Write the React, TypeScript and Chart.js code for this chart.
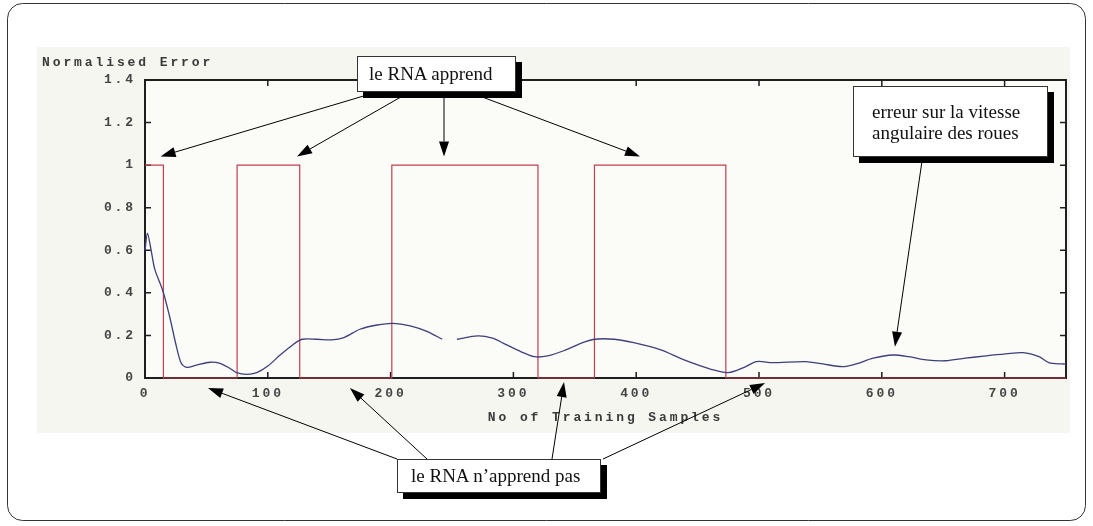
import React, { useEffect, useRef } from "react";
import { Chart, registerables } from "chart.js";

Chart.register(...registerables);

// ---- data ----
const errX = [0, 2, 5, 8, 14.5, 20, 25.5, 29.5, 34, 42, 53, 61, 69, 74.5, 83, 91, 100, 110, 121, 128, 140, 152, 162, 175, 189, 202, 216, 230, 242, 248, 254, 271, 283, 292, 306, 317, 328, 341, 355, 366, 382, 398, 420, 439, 461, 475, 488, 498, 511, 538, 552, 568, 579, 593, 609, 622, 636, 652, 668, 685, 701, 715, 728, 736, 747, 750];
const errY: (number | null)[] = [0.6, 0.68, 0.6, 0.51, 0.41, 0.29, 0.15, 0.07, 0.05, 0.061, 0.074, 0.069, 0.046, 0.025, 0.017, 0.025, 0.056, 0.108, 0.159, 0.182, 0.182, 0.179, 0.19, 0.229, 0.249, 0.257, 0.245, 0.218, 0.182, null, 0.182, 0.198, 0.187, 0.163, 0.124, 0.1, 0.104, 0.128, 0.163, 0.182, 0.182, 0.166, 0.132, 0.085, 0.041, 0.025, 0.05, 0.077, 0.072, 0.077, 0.066, 0.053, 0.066, 0.093, 0.108, 0.1, 0.085, 0.081, 0.093, 0.104, 0.113, 0.119, 0.1, 0.072, 0.066, 0.066];

const sigX = [0, 15, 15, 75, 75, 126, 126, 201, 201, 320, 320, 366, 366, 473, 473, 750];
const sigY = [1, 1, 0, 0, 1, 1, 0, 0, 1, 1, 0, 0, 1, 1, 0, 0];

const xTicks = [0, 100, 200, 300, 400, 500, 600, 700];
const yTicks = [0, 0.2, 0.4, 0.6, 0.8, 1, 1.2, 1.4];

const yAxisTitle = "Normalised Error";
const xAxisTitle = "No of Training Samples";

// annotations
const learnLabel = "le RNA apprend";
const idleLabel = "le RNA n\u2019apprend pas";
const errLabel = ["erreur sur la vitesse", "angulaire des roues"];

const learnTipX = [12.7, 123.8, 243.5, 403.1];
const learnTipY = [1.041, 1.041, 1.041, 1.041];
const learnStart = [[377, 92], [409.6, 92], [444, 92], [469, 92]];

const idleTipX = [51.3, 166.9, 341.2, 504.9];
const idleTipY = [-0.047, -0.047, -0.019, -0.024];
const idleStart = [[397, 459], [427, 459], [552, 459], [603, 459]];

const errTipX = [610.7];
const errTipY = [0.147];
const errStart = [[922.6, 157]];

const MONO = "'Liberation Mono', 'DejaVu Sans Mono', monospace";
const SERIF = "'Liberation Serif', 'DejaVu Serif', serif";

function drawArrow(ctx: CanvasRenderingContext2D, x1: number, y1: number, x2: number, y2: number) {
  const ang = Math.atan2(y2 - y1, x2 - x1);
  const L = 15, W = 5;
  const bx = x2 - L * Math.cos(ang);
  const by = y2 - L * Math.sin(ang);
  ctx.beginPath();
  ctx.moveTo(x1, y1);
  ctx.lineTo(bx, by);
  ctx.stroke();
  ctx.beginPath();
  ctx.moveTo(x2, y2);
  ctx.lineTo(bx + W * Math.sin(ang), by - W * Math.cos(ang));
  ctx.lineTo(bx - W * Math.sin(ang), by + W * Math.cos(ang));
  ctx.closePath();
  ctx.fill();
}

const decorPlugin = {
  id: "decor",
  beforeDraw(chart: any) {
    const { ctx, width, height } = chart;
    ctx.save();
    ctx.fillStyle = "#ffffff";
    ctx.fillRect(0, 0, width, height);
    ctx.fillStyle = "#f6f6f1";
    ctx.fillRect(37, 47, 1033, 386);
    ctx.strokeStyle = "#333";
    ctx.lineWidth = 1;
    ctx.beginPath();
    (ctx as any).roundRect(7.5, 3.5, 1078, 517, 15);
    ctx.stroke();
    ctx.restore();
    (ctx as any).letterSpacing = "2.9px";
  },
  beforeDatasetsDraw(chart: any) {
    const { ctx, chartArea, scales } = chart;
    const { left, right, top, bottom } = chartArea;
    ctx.save();
    ctx.fillStyle = "#fbfbf8";
    ctx.fillRect(left, top, right - left, bottom - top);
    ctx.strokeStyle = "#1e1e1e";
    ctx.lineWidth = 2;
    ctx.strokeRect(left, top, right - left, bottom - top);
    ctx.lineWidth = 1.5;
    const t = 6;
    xTicks.forEach((v) => {
      const px = scales.x.getPixelForValue(v);
      ctx.beginPath();
      ctx.moveTo(px, bottom);
      ctx.lineTo(px, bottom - t);
      ctx.moveTo(px, top);
      ctx.lineTo(px, top + t);
      ctx.stroke();
    });
    yTicks.forEach((v) => {
      const py = scales.y.getPixelForValue(v);
      ctx.beginPath();
      ctx.moveTo(left, py);
      ctx.lineTo(left + t, py);
      ctx.moveTo(right, py);
      ctx.lineTo(right - t, py);
      ctx.stroke();
    });
    ctx.restore();
  },
  afterDraw(chart: any) {
    const { ctx, scales } = chart;
    (ctx as any).letterSpacing = "0px";
    ctx.save();
    ctx.strokeStyle = "#000";
    ctx.fillStyle = "#000";
    ctx.lineWidth = 1;
    const groups: [number[], number[], number[][]][] = [
      [learnTipX, learnTipY, learnStart],
      [idleTipX, idleTipY, idleStart],
      [errTipX, errTipY, errStart],
    ];
    groups.forEach(([tx, ty, st]) => {
      tx.forEach((xv, i) => {
        const px = scales.x.getPixelForValue(xv);
        const py = scales.y.getPixelForValue(ty[i]);
        drawArrow(ctx, st[i][0], st[i][1], px, py);
      });
    });
    ctx.restore();
  },
};

const boxStyle: React.CSSProperties = {
  position: "absolute",
  background: "#fff",
  border: "1px solid #333",
  boxShadow: "6px 6px 0 #000",
  fontFamily: SERIF,
  fontSize: 19,
  color: "#111",
  whiteSpace: "nowrap",
  boxSizing: "border-box",
};

export default function App() {
  const ref = useRef<HTMLCanvasElement | null>(null);

  useEffect(() => {
    document.body.style.margin = "0";
    const canvas = ref.current;
    if (!canvas) return;
    const tickFont = { family: MONO, size: 13, weight: "bold" as const };
    const chart = new Chart(canvas, {
      type: "line",
      data: {
        datasets: [
          {
            label: "error",
            data: errX.map((x, i) => ({ x, y: errY[i] })) as any,
            borderColor: "#3f3f7c",
            borderWidth: 1.3,
            pointRadius: 0,
            tension: 0.3,
            spanGaps: false,
            clip: 4,
          },
          {
            label: "learning",
            data: sigX.map((x, i) => ({ x, y: sigY[i] })),
            borderColor: "#c0404e",
            borderWidth: 1.2,
            pointRadius: 0,
            tension: 0,
            clip: 4,
          },
        ],
      },
      options: {
        animation: false,
        responsive: false,
        layout: { padding: { left: 42, right: 27, top: 50, bottom: 94 } },
        plugins: {
          legend: { display: false },
          tooltip: { enabled: false },
          title: {
            display: true,
            text: yAxisTitle,
            align: "start",
            color: "#3a3a3a",
            font: { family: MONO, size: 13, weight: "bold" },
            padding: { top: 5.2, bottom: 9.2 },
          },
        },
        scales: {
          x: {
            type: "linear",
            min: 0,
            max: 750,
            afterBuildTicks: (s: any) => {
              s.ticks = xTicks.map((v) => ({ value: v }));
            },
            afterFit: (s: any) => {
              s.height = 54;
            },
            grid: { display: false, drawTicks: false },
            border: { display: false },
            ticks: {
              color: "#444",
              font: tickFont,
              padding: 8,
              maxRotation: 0,
              autoSkip: false,
              callback: (v: any) => String(v),
            },
            title: {
              display: true,
              text: xAxisTitle,
              color: "#3a3a3a",
              font: tickFont,
              padding: { top: 0, bottom: 6.2 },
            },
          },
          y: {
            type: "linear",
            min: 0,
            max: 1.4,
            afterBuildTicks: (s: any) => {
              s.ticks = yTicks.map((v) => ({ value: v }));
            },
            afterFit: (s: any) => {
              s.width = 103;
            },
            grid: { display: false, drawTicks: false },
            border: { display: false },
            ticks: {
              color: "#444",
              font: tickFont,
              padding: 9,
              callback: (v: any) => String(Math.round(Number(v) * 10) / 10),
            },
          },
        },
      },
      plugins: [decorPlugin],
    });
    return () => chart.destroy();
  }, []);

  return (
    <div style={{ position: "absolute", left: 0, top: 0, width: 1093, height: 526, overflow: "hidden" }}>
      <canvas ref={ref} width={1093} height={526} style={{ display: "block", width: 1093, height: 526 }} />
      <div style={{ ...boxStyle, left: 357, top: 56, width: 159, height: 36, paddingLeft: 11, lineHeight: "34px" }}>
        {learnLabel}
      </div>
      <div style={{ ...boxStyle, left: 853, top: 86, width: 195, height: 71, paddingLeft: 18, paddingTop: 14, lineHeight: "21px" }}>
        <div>{errLabel[0]}</div>
        <div>{errLabel[1]}</div>
      </div>
      <div style={{ ...boxStyle, left: 397, top: 459, width: 204, height: 34, paddingLeft: 13, lineHeight: "32px" }}>
        {idleLabel}
      </div>
    </div>
  );
}
